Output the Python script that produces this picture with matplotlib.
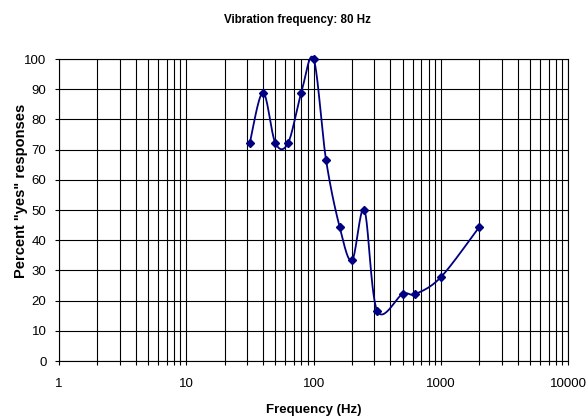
import numpy as np
import matplotlib
matplotlib.use("Agg")
import matplotlib.pyplot as plt
from matplotlib.ticker import LogLocator, FixedLocator, NullFormatter

plt.rcParams['font.family'] = ['Liberation Sans', 'DejaVu Sans']

# data
freq = [31.5, 40, 50, 63, 80, 100, 125, 160, 200, 250, 315, 500, 630, 1000, 2000]
pct_yes = [72.2, 88.9, 72.2, 72.2, 88.9, 100, 66.7, 44.4, 33.3, 50.0, 16.7, 22.2, 22.2, 27.8, 44.4]
xtick_vals = [1, 10, 100, 1000, 10000]
xtick_labels = ["1", "10", "100", "1000", "10000"]

line_color = "#000080"


def smooth_curve(px, py, n=30):
    # Excel-style smoothed line: Catmull-Rom bezier in screen space
    pts = np.column_stack([px, py])
    out = []
    for i in range(len(pts) - 1):
        p0 = pts[i - 1] if i > 0 else pts[i]
        p1 = pts[i]
        p2 = pts[i + 1]
        p3 = pts[i + 2] if i + 2 < len(pts) else pts[i + 1]
        c1 = p1 + (p2 - p0) / 6.0
        c2 = p2 - (p3 - p1) / 6.0
        t = np.linspace(0, 1, n)[:, None]
        seg = ((1 - t) ** 3) * p1 + 3 * ((1 - t) ** 2) * t * c1 + 3 * (1 - t) * t ** 2 * c2 + t ** 3 * p2
        out.append(seg if i == 0 else seg[1:])
    return np.vstack(out)


fig = plt.figure(figsize=(5.88, 4.19), dpi=100)
ax = fig.add_axes([59 / 588, 1 - 361 / 419, (568.3 - 59) / 588, (361 - 59) / 419])
ax.set_xscale("log")
ax.set_xlim(1, 10000)
ax.set_ylim(0, 100)

# smooth in display coordinates, then map back to data
disp = ax.transData.transform(np.column_stack([freq, pct_yes]))
curve = smooth_curve(disp[:, 0], disp[:, 1])
curve_data = ax.transData.inverted().transform(curve)
ax.plot(curve_data[:, 0], curve_data[:, 1], color=line_color, lw=1.3, zorder=3, clip_on=False)
ax.plot(freq, pct_yes, ls="none", marker="D", ms=4, color=line_color, zorder=4, clip_on=False)

ax.xaxis.set_major_locator(FixedLocator(xtick_vals))
ax.set_xticklabels(xtick_labels)
ax.xaxis.set_minor_locator(LogLocator(base=10, subs=np.arange(2, 10)))
ax.xaxis.set_minor_formatter(NullFormatter())
ax.set_yticks(np.arange(0, 101, 10))

ax.grid(True, which="both", axis="x", color="black", lw=0.8)
ax.grid(True, which="major", axis="y", color="black", lw=0.8)
ax.set_axisbelow(True)

ax.tick_params(axis="both", which="major", direction="out", length=3, width=0.8, labelsize=9.5, colors="black", pad=6)
ax.tick_params(axis="x", which="minor", direction="out", length=3, width=0.8)
ax.tick_params(axis="x", which="major", pad=9)
for s in ax.spines.values():
    s.set_linewidth(0.8)

ax.set_xlabel("Frequency (Hz)", fontsize=9.5, fontweight="bold")
ax.xaxis.set_label_coords((314 - 59) / (568.3 - 59), -(410 - 361) / 302)
ax.set_ylabel('Percent "yes" responses', fontsize=10.5, fontweight="bold")
ax.yaxis.set_label_coords(-(59 - 21) / (568.3 - 59), (361 - 191) / 302)
ax.xaxis.label.set_va("center")
ax.yaxis.label.set_va("center")
fig.text(297 / 588, 1 - 20 / 419, "Vibration frequency: 80 Hz", ha="center", va="center",
         fontsize=8.4, fontweight="bold")

fig.savefig("out.png", dpi=100)
